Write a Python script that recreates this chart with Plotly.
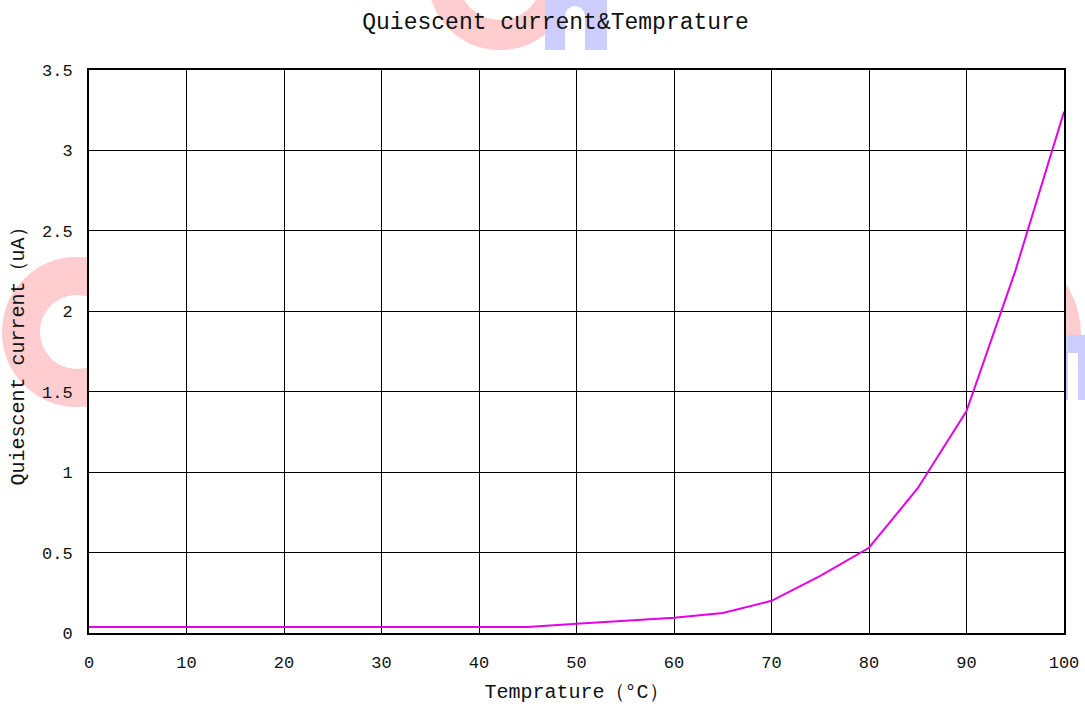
import plotly.graph_objects as go

# ---- data ----
temperature = [0, 5, 10, 15, 20, 25, 30, 35, 40, 45, 50, 55, 60, 65, 70, 75, 80, 85, 90, 95, 100]
quiescent_ua = [0.038, 0.038, 0.038, 0.038, 0.038, 0.038, 0.038, 0.038, 0.038, 0.038,
                0.058, 0.075, 0.095, 0.125, 0.20, 0.355, 0.53, 0.90, 1.38, 2.25, 3.24]
x_ticks = [0, 10, 20, 30, 40, 50, 60, 70, 80, 90, 100]
y_ticks = [0, 0.5, 1, 1.5, 2, 2.5, 3, 3.5]
y_tick_text = ["0", "0.5", "1", "1.5", "2", "2.5", "3", "3.5"]

W, H = 1085, 708
L, R, T, B = 89, 21, 70, 75
PW, PH = W - L - R, H - T - B
FONT = "Liberation Mono"

def px(x):
    return (x - L) / PW

def py(y):
    return (H - B - y) / PH

PINK = "#FFCCCF"
LBLUE = "#CDCDFF"

shapes = []
# decorative watermark pieces (behind plot area)
def ring(cx, cy, r_out, r_in, color):
    rm = (r_out + r_in) / 2
    shapes.append(dict(type="circle", xref="paper", yref="paper", layer="below",
                       x0=px(cx - rm), x1=px(cx + rm), y0=py(cy + rm), y1=py(cy - rm),
                       line=dict(color=color, width=r_out - r_in), fillcolor="rgba(0,0,0,0)"))

def rect(x0, y0, x1, y1, color):
    shapes.append(dict(type="rect", xref="paper", yref="paper", layer="below",
                       x0=px(x0), x1=px(x1), y0=py(y1), y1=py(y0),
                       line=dict(width=0), fillcolor=color))

ring(77, 332, 75, 37, PINK)
ring(500, -22, 72, 42, PINK)
ring(986, 335, 95, 40, PINK)
# top "n"
rect(545, -5, 607, 50, LBLUE)
rect(565, 16, 585, 51, "white")
shapes.append(dict(type="circle", xref="paper", yref="paper", layer="below",
                   x0=px(565), x1=px(585), y0=py(26), y1=py(6),
                   line=dict(width=0), fillcolor="white"))
# right "n"
rect(1048, 335, 1100, 400, LBLUE)
rect(1068, 353, 1078, 401, "white")
# plot area background covers the watermark
shapes.append(dict(type="rect", xref="paper", yref="paper", layer="below",
                   x0=0, x1=1, y0=0, y1=1, line=dict(width=0), fillcolor="white"))

fig = go.Figure()
fig.add_trace(go.Scatter(x=temperature, y=quiescent_ua, mode="lines",
                         line=dict(color="#E400E8", width=2), showlegend=False))

fig.update_layout(
    width=W, height=H, autosize=False,
    margin=dict(l=L, r=R, t=T, b=B, pad=0, autoexpand=False),
    paper_bgcolor="white",
    plot_bgcolor="white",
    font=dict(family=FONT, color="#111", size=17),
    title=dict(text="Quiescent current&Temprature", x=555.5 / W, xref="container", xanchor="center",
               y=1 - 21 / H, yref="container", yanchor="middle",
               font=dict(family=FONT, size=23, color="#111")),
    shapes=shapes,
    xaxis=dict(range=[0, 100], tickvals=x_ticks, showgrid=True, gridcolor="black", gridwidth=1,
               showline=True, linecolor="black", linewidth=2, mirror=True, ticks="",
               zeroline=False, ticklabelstandoff=13, tickfont=dict(size=17), automargin=False,
               title=dict(text="Temprature（°C）", standoff=12, font=dict(size=20))),
    yaxis=dict(range=[0, 3.5], tickvals=y_ticks, ticktext=y_tick_text, showgrid=True,
               gridcolor="black", gridwidth=1, automargin=False,
               showline=True, linecolor="black", linewidth=2, mirror=True, ticks="",
               zeroline=False, ticklabelstandoff=11, tickfont=dict(size=17),
               title=dict(text="Quiescent current（uA）", standoff=12, font=dict(size=20))),
)

fig.write_html("out.html")
